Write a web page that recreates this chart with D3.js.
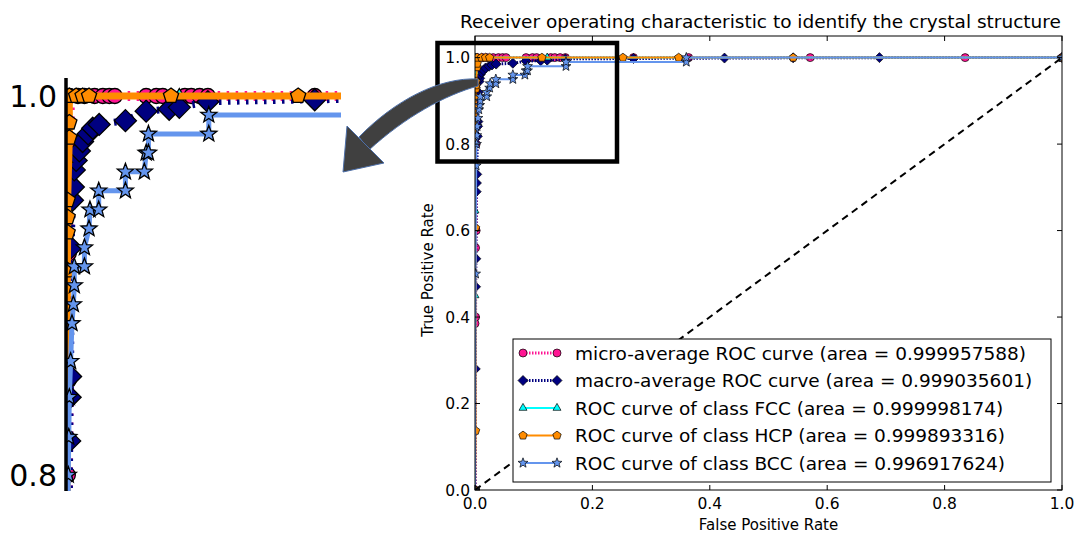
<!DOCTYPE html>
<html><head><meta charset="utf-8">
<script src="https://cdn.jsdelivr.net/npm/d3@7"></script>
<style>body{margin:0;background:#fff}svg{display:block}text{font-family:"DejaVu Sans",sans-serif;fill:#000}</style>
</head><body><svg id="c" width="1079" height="535"></svg>
<script>
// ---------- data ----------
const chartTitle = "Receiver operating characteristic to identify the crystal structure";
const xLabel = "False Positive Rate";
const yLabel = "True Positive Rate";
const xTicks = [0, 0.2, 0.4, 0.6, 0.8, 1.0];
const yTicks = [0, 0.2, 0.4, 0.6, 0.8, 1.0];
const insetTicks = [0.8, 1.0];
const seriesLabels = [
  "micro-average ROC curve (area = 0.999957588)",
  "macro-average ROC curve (area = 0.999035601)",
  "ROC curve of class FCC (area = 0.999998174)",
  "ROC curve of class HCP (area = 0.999893316)",
  "ROC curve of class BCC (area = 0.996917624)"
];
const microFpr = [0, 0, 0.001, 0.001, 0.002, 0.002, 0.003, 0.003, 0.004, 0.004, 0.013, 0.020, 0.031, 0.040, 0.047, 0.053, 0.087, 0.098, 0.105, 0.129, 0.136, 0.145, 0.154, 0.270, 0.364, 0.571, 0.835, 1.0];
const microTpr = [0, 0.385, 0.40, 0.56, 0.60, 0.80, 0.85, 0.917, 0.96, 1, 1, 1, 1, 1, 1, 1, 1, 1, 1, 1, 1, 1, 1, 1, 1, 1, 1, 1];
const macroFpr = [0, 0.0005, 0.001, 0.0015, 0.002, 0.0025, 0.003, 0.004, 0.0045, 0.005, 0.0055, 0.007, 0.008, 0.009, 0.011, 0.0145, 0.018, 0.024, 0.029, 0.036, 0.0645, 0.087, 0.112, 0.123, 0.154, 0.270, 0.425, 0.542, 0.689, 1.0];
const macroTpr = [0, 0.28, 0.47, 0.535, 0.69, 0.71, 0.73, 0.818, 0.841, 0.852, 0.92, 0.945, 0.952, 0.961, 0.966, 0.971, 0.976, 0.980, 0.983, 0.985, 0.987, 0.992, 0.993, 0.994, 0.997, 0.998, 0.999, 0.9995, 1.0, 1.0];
const fccFpr = [0, 0, 0, 0, 0.001, 0.123, 1.0];
const fccTpr = [0, 0.45, 0.646, 0.967, 1.0, 1.0, 1.0];
const hcpFpr = [0, 0.001, 0.001, 0.0015, 0.0018, 0.0018, 0.0018, 0.0036, 0.0036, 0.0036, 0.011, 0.018, 0.025, 0.114, 0.252, 0.347, 0.542, 1.0];
const hcpTpr = [0, 0.137, 0.606, 0.908, 0.928, 0.936, 0.945, 0.978, 0.986, 1, 1, 1, 1, 1, 1, 1, 1, 1];
const bccFpr = [0, 0.001, 0.002, 0.0025, 0.003, 0.0036, 0.005, 0.0065, 0.008, 0.009, 0.009, 0.020, 0.020, 0.025, 0.026, 0.0355, 0.0355, 0.0645, 0.0645, 0.085, 0.087, 0.0895, 0.0895, 0.155, 0.155, 0.36, 0.36, 1.0];
const bccTpr = [0, 0.50, 0.75, 0.80, 0.82, 0.841, 0.86, 0.88, 0.89, 0.90, 0.91, 0.91, 0.92, 0.93, 0.94, 0.94, 0.95, 0.95, 0.96, 0.96, 0.97, 0.97, 0.98, 0.98, 0.99, 0.99, 1.0, 1.0];
const chanceFpr = [0, 1];
const chanceTpr = [0, 1];

// ---------- series table ----------
const series = [
  {fpr: microFpr, tpr: microTpr, color: "#ff1493", dotted: true, marker: "circle"},
  {fpr: macroFpr, tpr: macroTpr, color: "#000080", dotted: true, marker: "diamond"},
  {fpr: fccFpr, tpr: fccTpr, color: "#00ffff", dotted: false, marker: "triangle"},
  {fpr: hcpFpr, tpr: hcpTpr, color: "#ff8c00", dotted: false, marker: "pentagon"},
  {fpr: bccFpr, tpr: bccTpr, color: "#6495ed", dotted: false, marker: "star"}
].map((s, i) => ({...s, label: seriesLabels[i], pts: s.fpr.map((f, j) => [f, s.tpr[j]])}));

function poly(n, r, inner, rot) {
  const pts = [];
  const k = inner ? n * 2 : n;
  for (let i = 0; i < k; i++) {
    const rr = inner && i % 2 ? r * inner : r;
    const a = rot + i * 2 * Math.PI / k;
    pts.push([rr * Math.cos(a), rr * Math.sin(a)]);
  }
  return "M" + pts.map(p => p[0].toFixed(2) + "," + p[1].toFixed(2)).join("L") + "Z";
}
function markerPath(type, r) {
  if (type === "circle") return `M${r},0A${r},${r} 0 1,1 ${-r},0A${r},${r} 0 1,1 ${r},0Z`;
  if (type === "diamond") return `M0,${-r}L${r},0L0,${r}L${-r},0Z`;
  if (type === "triangle") return poly(3, r, 0, -Math.PI / 2);
  if (type === "pentagon") return poly(5, r, 0, -Math.PI / 2);
  return poly(5, r, 0.42, -Math.PI / 2);
}

const svg = d3.select("#c");
const defs = svg.append("defs");

// ---------- main plot ----------
const M = {l: 475, r: 1062, t: 36, b: 490};
const x = d3.scaleLinear().domain([0, 1]).range([M.l, M.r]);
const y = d3.scaleLinear().domain([0, 1.05]).range([M.b, M.t]);
defs.append("clipPath").attr("id", "mclip").append("rect")
  .attr("x", M.l).attr("y", M.t).attr("width", M.r - M.l).attr("height", M.b - M.t);

const mainSizes = {circle: 4, diamond: 5, triangle: 4.6, pentagon: 4.4, star: 5.2};
const plot = svg.append("g").attr("clip-path", "url(#mclip)");
const line = d3.line().x(d => x(d[0])).y(d => y(d[1]));
series.forEach(s => {
  plot.append("path").attr("d", line(s.pts)).attr("fill", "none")
    .attr("stroke", s.color).attr("stroke-width", s.dotted ? 3 : 2)
    .attr("stroke-dasharray", s.dotted ? "1.5,1.5" : null);
  plot.selectAll(null).data(s.pts).enter().append("path")
    .attr("d", markerPath(s.marker, mainSizes[s.marker]))
    .attr("transform", d => `translate(${x(d[0])},${y(d[1])})`)
    .attr("fill", s.color).attr("stroke", "#000").attr("stroke-width", 0.7);
});
plot.append("path").attr("d", line(chanceFpr.map((f, i) => [f, chanceTpr[i]])))
  .attr("fill", "none").attr("stroke", "#000").attr("stroke-width", 2).attr("stroke-dasharray", "7,5");

// frame & ticks
svg.append("rect").attr("x", M.l).attr("y", M.t).attr("width", M.r - M.l).attr("height", M.b - M.t)
  .attr("fill", "none").attr("stroke", "#000").attr("stroke-width", 1);
const tk = svg.append("g").attr("stroke", "#000").attr("stroke-width", 1);
xTicks.forEach(v => {
  tk.append("line").attr("x1", x(v)).attr("x2", x(v)).attr("y1", M.b).attr("y2", M.b - 5);
  tk.append("line").attr("x1", x(v)).attr("x2", x(v)).attr("y1", M.t).attr("y2", M.t + 5);
  svg.append("text").attr("x", x(v)).attr("y", M.b + 19).attr("text-anchor", "middle")
    .attr("font-size", 15.5).text(d3.format(".1f")(v));
});
yTicks.forEach(v => {
  tk.append("line").attr("x1", M.l).attr("x2", M.l + 5).attr("y1", y(v)).attr("y2", y(v));
  tk.append("line").attr("x1", M.r).attr("x2", M.r - 5).attr("y1", y(v)).attr("y2", y(v));
  svg.append("text").attr("x", M.l - 5).attr("y", y(v) + 5.5).attr("text-anchor", "end")
    .attr("font-size", 15.5).text(d3.format(".1f")(v));
});
svg.append("text").attr("x", (M.l + M.r) / 2 - 8).attr("y", 28).attr("text-anchor", "middle")
  .attr("font-size", 18.5).text(chartTitle);
svg.append("text").attr("x", (M.l + M.r) / 2).attr("y", 530).attr("text-anchor", "middle")
  .attr("font-size", 15).text(xLabel);
svg.append("text").attr("transform", "translate(433,270) rotate(-90)").attr("text-anchor", "middle")
  .attr("font-size", 15).text(yLabel);

// legend
const lg = svg.append("g");
lg.append("rect").attr("x", 513).attr("y", 339).attr("width", 538).attr("height", 143)
  .attr("fill", "#fff").attr("stroke", "#000").attr("stroke-width", 1);
series.forEach((s, i) => {
  const cy = 353 + i * 27.5;
  lg.append("line").attr("x1", 523).attr("x2", 557).attr("y1", cy).attr("y2", cy)
    .attr("stroke", s.color).attr("stroke-width", s.dotted ? 3 : 2)
    .attr("stroke-dasharray", s.dotted ? "1.5,1.5" : null);
  [523, 557].forEach(px => lg.append("path").attr("d", markerPath(s.marker, mainSizes[s.marker]))
    .attr("transform", `translate(${px},${cy})`).attr("fill", s.color)
    .attr("stroke", "#000").attr("stroke-width", 0.7));
  lg.append("text").attr("x", 575).attr("y", cy + 6.5).attr("font-size", 18.5).text(s.label);
});

// zoom box
svg.append("rect").attr("x", 437.5).attr("y", 43).attr("width", 179.5).attr("height", 118.5)
  .attr("fill", "none").attr("stroke", "#000").attr("stroke-width", 4.5);

// ---------- inset ----------
const I = {l: 66, r: 341, t: 78, b: 491};
const xi = d3.scaleLinear().domain([0, 0.2985]).range([I.l, I.r]);
const yi = d3.scaleLinear().domain([0.8, 1.0]).range([475, 96]);
defs.append("clipPath").attr("id", "iclip").append("rect")
  .attr("x", I.l - 1).attr("y", I.t).attr("width", I.r - I.l + 1).attr("height", I.b - I.t);
const insetSizes = {circle: 7.5, diamond: 11, triangle: 7.5, pentagon: 8, star: 8.5};
const insetWidths = [10, 7, 5, 7, 5];
const ig = svg.append("g").attr("clip-path", "url(#iclip)");
const iline = d3.line().x(d => xi(d[0])).y(d => yi(d[1]));
series.forEach((s, i) => {
  ig.append("path").attr("d", iline(s.pts)).attr("fill", "none")
    .attr("stroke", s.color).attr("stroke-width", insetWidths[i])
    .attr("stroke-dasharray", s.dotted ? "2.5,6.5" : null);
  ig.selectAll(null).data(s.pts).enter().append("path")
    .attr("d", markerPath(s.marker, insetSizes[s.marker]))
    .attr("transform", d => `translate(${xi(d[0])},${yi(d[1])})`)
    .attr("fill", s.color).attr("stroke", "#000").attr("stroke-width", 1.3);
});
svg.append("line").attr("x1", I.l).attr("x2", I.l).attr("y1", I.t).attr("y2", I.b)
  .attr("stroke", "#000").attr("stroke-width", 3.5);
insetTicks.forEach(v => {
  svg.append("text").attr("x", 57).attr("y", yi(v) + 11).attr("text-anchor", "end")
    .attr("font-size", 30).text(d3.format(".1f")(v));
});

// ---------- arrow ----------
const ar = svg.append("g").attr("fill", "#404040").attr("stroke", "#4d6fa8").attr("stroke-width", 1);
ar.append("path").attr("d", "M478,79 C440,77 395,100 359,137 L369,150 C405,117 445,95 478,86 Z");
ar.append("path").attr("d", "M343,172 L347,126 L384,163 Z");
</script></body></html>
